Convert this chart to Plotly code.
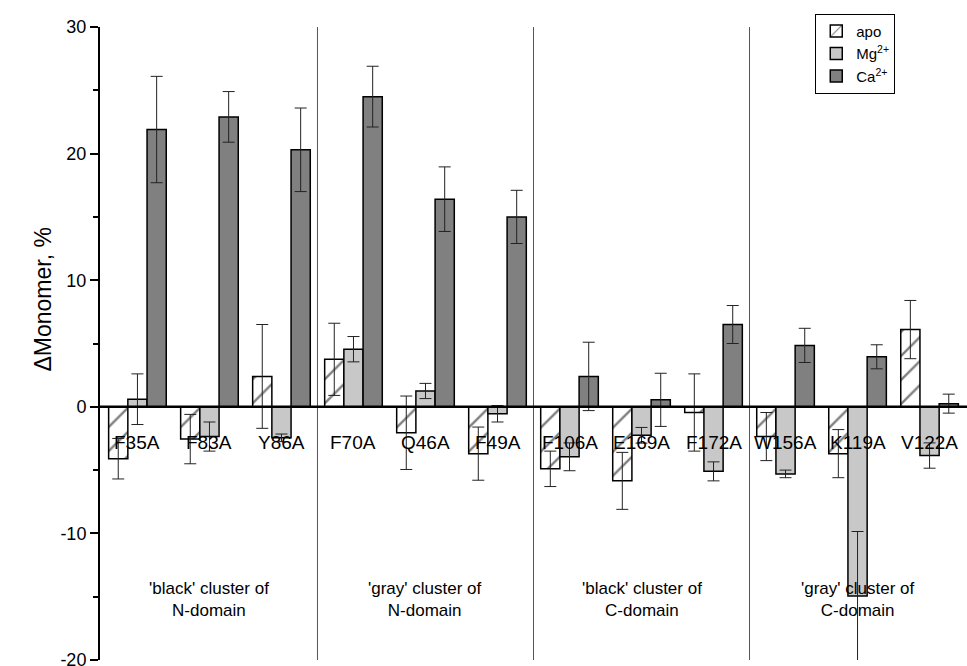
import plotly.graph_objects as go

categories = ["F35A", "F83A", "Y86A", "F70A", "Q46A", "F49A",
              "F106A", "E169A", "F172A", "W156A", "K119A", "V122A"]
apo = [-4.1, -2.55, 2.4, 3.75, -2.05, -3.7, -4.9, -5.85, -0.45, -2.35, -3.7, 6.1]
apo_err = [1.6, 1.95, 4.1, 2.85, 2.9, 2.1, 1.4, 2.25, 3.05, 1.9, 1.9, 2.3]
mg = [0.6, -2.35, -2.45, 4.55, 1.25, -0.55, -3.95, -2.25, -5.1, -5.3, -14.95, -3.85]
mg_err = [2.0, 1.15, 0.3, 1.0, 0.6, 0.65, 1.1, 0.62, 0.75, 0.3, 5.1, 1.0]
ca = [21.9, 22.9, 20.3, 24.5, 16.4, 15.0, 2.4, 0.55, 6.5, 4.85, 3.95, 0.25]
ca_err = [4.2, 2.0, 3.3, 2.4, 2.55, 2.1, 2.7, 2.1, 1.5, 1.35, 0.95, 0.75]
cluster_labels = ["'black' cluster of<br>N-domain", "'gray' cluster of<br>N-domain",
                  "'black' cluster of<br>C-domain", "'gray' cluster of<br>C-domain"]
cluster_centers = ["F83A", "Q46A", "E169A", "K119A"]
separators = [2.5, 5.5, 8.5]
y_tickvals = [-20, -10, 0, 10, 20, 30]
y_ticktext = ["-20", "-10", "0", "10", "20", "30"]

FONT = "Liberation Sans, Arial, sans-serif"
err_style = dict(type="data", visible=True, color="#222222", thickness=1, width=6)

fig = go.Figure()
fig.add_trace(go.Bar(
    x=categories, y=apo, name="apo",
    error_y=dict(array=apo_err, **err_style),
    marker=dict(color="white", line=dict(color="black", width=1.5),
                pattern=dict(shape="/", fgcolor="black", bgcolor="white",
                             size=17, solidity=0.14)),
))
fig.add_trace(go.Bar(
    x=categories, y=mg, name="Mg<sup>2+</sup>",
    error_y=dict(array=mg_err, **err_style),
    marker=dict(color="#c8c8c8", line=dict(color="black", width=1.5)),
))
fig.add_trace(go.Bar(
    x=categories, y=ca, name="Ca<sup>2+</sup>",
    error_y=dict(array=ca_err, **err_style),
    marker=dict(color="#808080", line=dict(color="black", width=1.5)),
))

shapes = []
for s in separators:
    shapes.append(dict(type="line", xref="x", yref="y", x0=s, x1=s, y0=-20, y1=30,
                       line=dict(color="#555555", width=1), layer="below"))
shapes.append(dict(type="line", xref="paper", yref="y", x0=0, x1=1, y0=0, y1=0,
                   line=dict(color="black", width=2.5), layer="above"))

annotations = []
for c in categories:
    annotations.append(dict(x=c, y=-2.85, xref="x", yref="y", text=c, showarrow=False,
                            font=dict(size=19, color="black", family=FONT),
                            xanchor="center", yanchor="middle"))
for c, t in zip(cluster_centers, cluster_labels):
    annotations.append(dict(x=c, y=-15.25, xref="x", yref="y", text=t, showarrow=False,
                            font=dict(size=17, color="black", family=FONT),
                            xanchor="center", yanchor="middle", align="center"))
annotations.append(dict(x=-0.066, y=8.45, xref="paper", yref="y", text="ΔMonomer, %",
                        showarrow=False, textangle=-90,
                        font=dict(size=23, color="black", family=FONT),
                        xanchor="center", yanchor="middle"))

fig.update_layout(
    width=967, height=666,
    margin=dict(l=100, r=0, t=27, b=6),
    paper_bgcolor="white", plot_bgcolor="white",
    barmode="group", bargap=0.2, bargroupgap=0,
    font=dict(family=FONT, color="black"),
    showlegend=True,
    legend=dict(x=0.825, y=1.021, xanchor="left", yanchor="top",
                bordercolor="black", borderwidth=1, bgcolor="white",
                font=dict(size=15, family=FONT), tracegroupgap=0,
                itemwidth=30),
    xaxis=dict(range=[-0.52, 11.52], showticklabels=False, ticks="",
               showgrid=False, zeroline=False, showline=False, automargin=False),
    yaxis=dict(range=[-20, 30], tickvals=y_tickvals, ticktext=y_ticktext,
               ticks="outside", ticklen=8, tickwidth=2, tickcolor="black",
               ticklabeloverflow="allow", automargin=False,
               showline=True, linecolor="black", linewidth=2,
               showgrid=False, zeroline=False,
               tickfont=dict(size=18, family=FONT, color="black"),
               minor=dict(tickvals=[-15, -5, 5, 15, 25], ticks="outside",
                          ticklen=5, tickwidth=2, tickcolor="black")),
    shapes=shapes,
    annotations=annotations,
)

fig.write_html("out.html")
